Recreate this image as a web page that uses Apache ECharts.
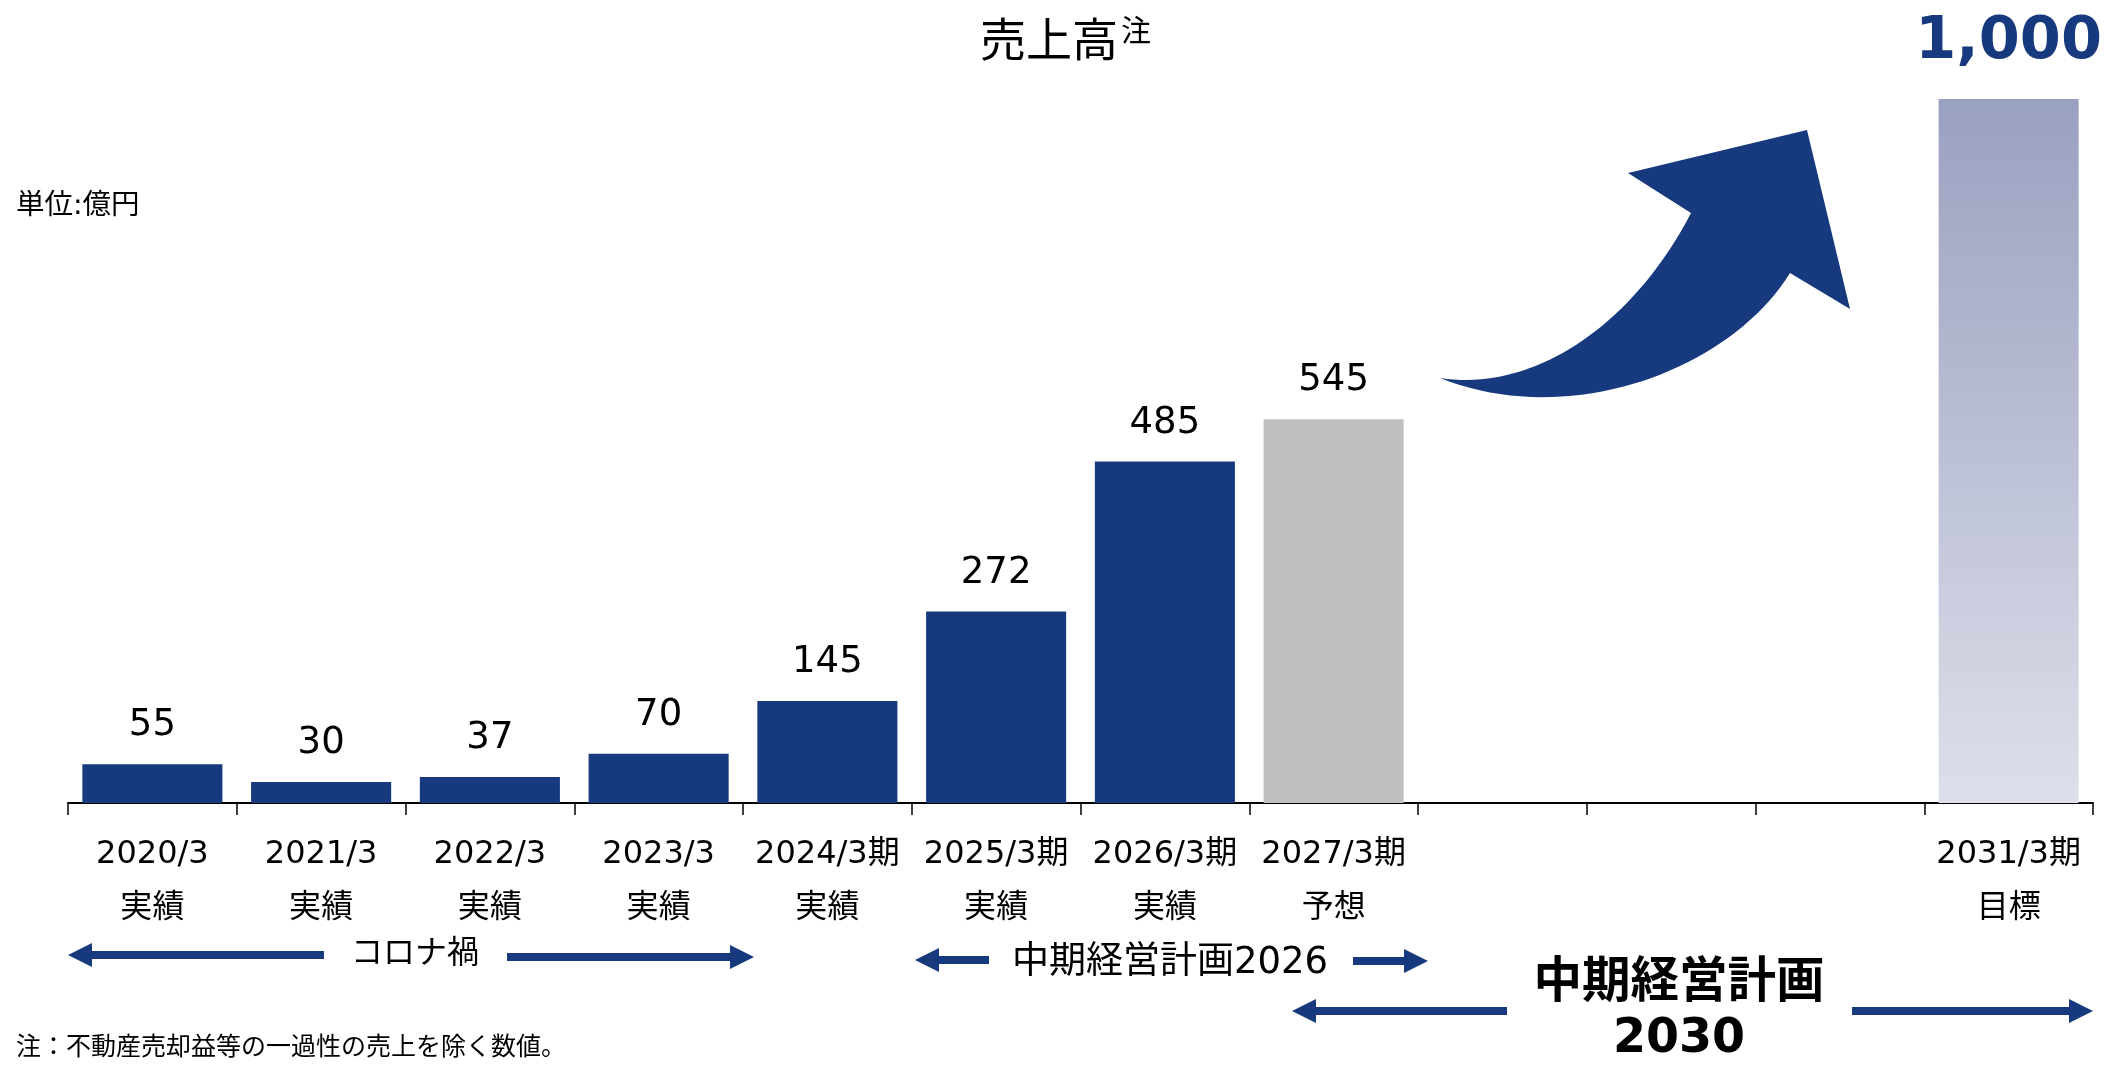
<!DOCTYPE html>
<html><head><meta charset="utf-8">
<script src="https://cdn.jsdelivr.net/npm/echarts@6/dist/echarts.min.js"></script>
<style>html,body{margin:0;padding:0;background:#fff}#c{width:2113px;height:1067px}</style>
</head><body><div id="c"></div>
<script>
// ---- data ----
const categories = ['2020/3','2021/3','2022/3','2023/3','2024/3期','2025/3期','2026/3期','2027/3期','','','','2031/3期'];
const subLabels = ['実績','実績','実績','実績','実績','実績','実績','予想','','','','目標'];
const salesValues = [55,30,37,70,145,272,485,545,null,null,null,1000];
const barKinds = ['actual','actual','actual','actual','actual','actual','actual','forecast','','','','target'];

// ---- styles ----
const FONT = '"DejaVu Sans","Noto Sans CJK JP",sans-serif';
const BLUE = '#17397d';
const kindStyle = {
  actual: { color: BLUE },
  forecast: { color: '#bfbfbf' },
  target: { color: new echarts.graphic.LinearGradient(0,0,0,1,[{offset:0,color:'#9aa0c0'},{offset:1,color:'#dde0ea'}]) }
};
const normalLabel = { show: true, position: 'top', distance: 20, fontSize: 37, color: '#000', fontFamily: FONT };
const targetLabel = { show: true, position: 'top', distance: 27, fontSize: 59, fontWeight: 'bold', color: BLUE, fontFamily: FONT };

const barData = salesValues.map((v, i) => ({
  value: v,
  itemStyle: kindStyle[barKinds[i]] || {},
  label: barKinds[i] === 'target' ? targetLabel : normalLabel
}));

function cubic(p0,p1,p2,p3,n){const pts=[];for(let i=0;i<=n;i++){const t=i/n,u=1-t;
  pts.push([u*u*u*p0[0]+3*u*u*t*p1[0]+3*u*t*t*p2[0]+t*t*t*p3[0],
            u*u*u*p0[1]+3*u*u*t*p1[1]+3*u*t*t*p2[1]+t*t*t*p3[1]]);}return pts;}
function hArrow(tail, tip, y, shaft, headH, headL){
  const d = tip > tail ? 1 : -1, base = tip - d*headL;
  return [[tail,y-shaft/2],[base,y-shaft/2],[base,y-headH],[tip,y],[base,y+headH],[base,y+shaft/2],[tail,y+shaft/2]];
}
const bigArrow = [].concat(
  cubic([1440,378],[1530,392],[1630,330],[1691,213],40),
  [[1628,173],[1807,130],[1850,309]],
  cubic([1790,273],[1730,370],[1570,430],[1440,378],40));

function txt(x,y,text,size,opts){
  return { type:'text', x:x, y:y, silent:true, style: Object.assign({ text:text, fill:'#000', fontSize:size, fontFamily:FONT, textAlign:'left', textVerticalAlign:'middle' }, opts||{}) };
}
function arr(points){ return { type:'polygon', silent:true, shape:{points:points}, style:{fill:BLUE} }; }

const chart = echarts.init(document.getElementById('c'));
chart.setOption({
  animation: false,
  backgroundColor: '#fff',
  grid: { left: 68, right: 20, top: 99, bottom: 264 },
  xAxis: {
    type: 'category',
    data: categories,
    axisLine: { lineStyle: { color: '#000', width: 2 } },
    axisTick: { show: true, length: 12, lineStyle: { color: '#000', width: 1.5 } },
    axisLabel: {
      interval: 0, margin: 25, fontSize: 32, lineHeight: 54, color: '#000', fontFamily: FONT,
      formatter: (v, i) => categories[i] ? categories[i] + '\n' + subLabels[i] : ''
    }
  },
  yAxis: { type: 'value', min: 0, max: 1000, show: false },
  series: [{
    type: 'bar',
    barCategoryGap: '17%',
    data: barData,
    label: { show: true, formatter: p => p.value == null ? '' : Number(p.value).toLocaleString('en-US') }
  }],
  graphic: [
    txt(980, 44, '売上高', 46),
    txt(1121, 33, '注', 30),
    txt(16, 207, '単位:億円', 28.5),
    txt(16, 1048, '注：不動産売却益等の一過性の売上を除く数値。', 25),
    arr(bigArrow),
    arr(hArrow(324, 68, 955, 8, 12, 24)),
    txt(415, 955, 'コロナ禍', 32, {textAlign:'center'}),
    arr(hArrow(507, 754, 957, 8, 12, 24)),
    arr(hArrow(989, 915, 960, 8, 12, 24)),
    txt(1012, 963, '中期経営計画2026', 37),
    arr(hArrow(1353, 1428, 961, 8, 12, 24)),
    arr(hArrow(1507, 1292, 1011, 8, 12, 24)),
    txt(1679, 984, '中期経営計画', 48.5, {textAlign:'center', fontWeight:'bold'}),
    txt(1679, 1040, '2030', 47.5, {textAlign:'center', fontWeight:'bold'}),
    arr(hArrow(1852, 2093, 1011, 8, 12, 24))
  ]
});
</script></body></html>
